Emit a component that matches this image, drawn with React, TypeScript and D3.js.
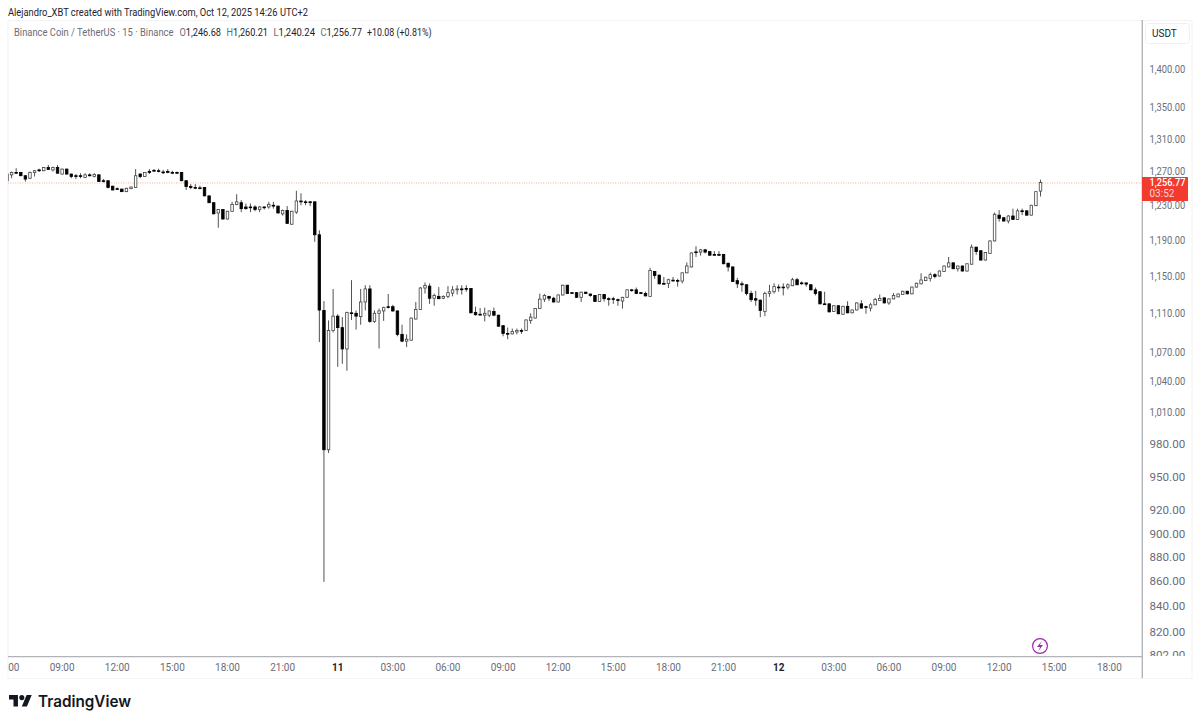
import React from "react";
import * as d3 from "d3";

// OHLC of the 15-minute candles, first bar Oct 10 06:00
const opens = [1259,1266,1269,1269,1265,1262,1269,1272,1271,1275,1272,1275,1267,1273,1267,1265,1265,1263,1266,1264,1266,1259,1259,1252.5,1249.5,1249,1246,1249.5,1251,1267,1264,1270,1271.5,1271,1269.5,1270,1269,1269,1269,1259,1252,1251,1250.5,1251,1241,1233,1221,1225,1214,1223,1231,1233,1228,1228,1228,1225,1228,1228,1230,1229,1220,1224,1208,1222,1235,1234,1234,1234,1196,1113,975,1092,1107,1095,1073,1110.5,1110,1106.5,1122,1136,1101.5,1110,1112.5,1117,1117,1112.5,1088,1081,1082,1104,1114,1137,1139,1126,1128,1126,1128,1131.5,1135,1136,1136.5,1136.5,1111,1109,1108,1108,1112,1108,1097,1089,1088.5,1090.5,1092,1092,1102.5,1105,1115,1125,1128,1126,1122,1129.5,1140,1132,1132,1127,1132.5,1130.5,1129,1122.5,1130,1125.5,1125.5,1124.5,1123,1127,1135,1135,1132,1131,1128,1155,1151,1142,1142,1145.5,1145.2,1144.5,1153.5,1160,1176.7,1176.5,1179,1177,1173.8,1173.8,1173.8,1164,1160,1145,1141.5,1140.5,1131,1125.5,1124,1112,1131,1133,1138,1138,1138,1139.5,1146,1142.5,1142.5,1140.5,1135,1133,1120,1120,1112,1118,1109,1117.4,1110.5,1113.5,1120,1117,1115.5,1119,1123.5,1126.4,1121,1125.3,1127.5,1130,1133.5,1130.7,1138,1141.5,1145,1147.5,1151.5,1150,1155,1160,1164.5,1158,1161,1155.5,1163,1182,1178,1167.6,1175,1189,1218.5,1215.5,1211.7,1217.5,1213.6,1223.5,1223.5,1218.5,1229.5,1246.68];
const highs = [1268,1270,1274,1269.5,1265,1270,1272,1273.5,1275.5,1278,1276,1278,1273.5,1273.5,1267.5,1267,1268,1268,1268,1268,1267,1261,1259.5,1253,1251,1249.5,1250.5,1252,1273,1268,1269.5,1273,1273,1273.5,1272,1273,1271,1270,1269.5,1259.5,1255,1255,1253,1251.5,1241.5,1233.5,1225.5,1225.5,1223.5,1234,1243,1236,1232,1232,1230,1229,1228.5,1234,1234,1229.5,1225,1229,1223.5,1247,1244,1236,1235,1234.5,1201,1123,1102.5,1136,1109,1106,1111.5,1145.5,1113,1136,1140,1140,1113,1115,1117,1130.5,1119,1113,1098,1088,1105.5,1122,1138,1143,1142,1131,1138,1129,1139,1139,1140,1140,1140,1137,1117,1115.5,1116,1113,1116,1108.5,1097.5,1095,1094,1094,1094,1103.5,1110,1115.5,1131,1130.5,1128.5,1127.5,1130,1140.5,1140.5,1132.5,1132.5,1133,1133,1131,1129.5,1130.5,1130.5,1127,1127.5,1125.5,1127.5,1135.5,1136,1137.5,1132.5,1133,1159,1155.5,1151.5,1149,1147,1149,1147,1154,1165,1176,1183,1180,1180,1177.5,1177.5,1177.5,1174,1165,1160.5,1148,1144,1141,1134,1134,1124.5,1133,1140.5,1142,1141,1142,1142,1148,1148,1144,1143,1141,1137.5,1133.5,1133,1120.5,1118.5,1118.5,1118,1122.8,1114,1121.5,1124,1118,1121,1126.4,1130,1127,1125.8,1131.5,1131,1134,1134,1138.5,1142.7,1153,1149.2,1153.7,1153,1156,1161.5,1171,1165,1161.5,1161.5,1164,1185,1182.5,1178.5,1176.5,1189.5,1221.5,1224.3,1216,1218.5,1226,1226,1226,1224,1230.5,1246.5,1260.21];
const lows = [1258,1262,1267,1264.5,1258,1261,1264,1269.5,1270.5,1272,1270,1268,1266.5,1266.5,1262,1261,1262,1262,1264,1263,1257.5,1257,1250,1247.5,1248,1245.5,1245.5,1249,1250.5,1262,1263.5,1267,1269.5,1269,1267,1268,1267,1267,1258.5,1248,1249,1249,1249,1240.5,1232.5,1219.5,1204,1213.5,1213.5,1222.5,1230,1222,1225,1222,1223,1222,1225,1226,1226,1220.5,1218,1208.5,1207.5,1220,1230,1230,1229,1188,1080,860,972,1090,1055,1058,1051,1103,1093,1098,1113,1100,1100,1073.5,1102,1115,1111.5,1086,1080,1075,1081.5,1103.5,1113.5,1131,1120,1118,1125,1125,1126,1128,1130,1130,1133,1110,1107.5,1107.5,1101.5,1106,1107,1096,1086,1083,1088,1088,1088.5,1091.5,1099,1104.5,1114.5,1122,1123,1121.5,1121.5,1129,1130.5,1131,1126.5,1122,1130.5,1127.5,1122,1122,1122.5,1118,1120,1118,1115,1126.5,1133,1130.5,1130.5,1128,1127.5,1147,1141,1141,1137,1144,1138.5,1142,1153,1159.5,1171,1172.5,1175,1172.5,1172.5,1172.5,1163,1155,1143.5,1137,1133,1129,1122,1118,1106,1107,1127.5,1131,1133,1129,1135.5,1139,1140,1140.5,1138.5,1134.5,1129,1119.5,1119,1111,1111.5,1109,1108.5,1110,1110,1113,1115,1109.5,1112,1118.5,1123,1120.5,1119,1125,1127,1129.5,1130.2,1130.2,1137.5,1141,1144.5,1144,1147.5,1149.5,1154.5,1159.5,1157.5,1155,1155,1155,1162.5,1173.5,1167,1167,1174.5,1188.5,1211,1211.2,1209,1213,1213,1218.5,1218,1218,1229,1240.24];
const closes = [1267,1269,1268,1265,1261,1269,1271,1271,1275,1272.5,1275,1268,1273,1267,1264,1264,1264,1266,1265,1266.5,1258,1258,1251,1248,1249,1246,1250,1251.5,1265,1264,1269,1269.6,1271,1270,1269,1269.5,1268.5,1268,1259,1252,1251,1250,1250,1241,1233,1220,1225,1214,1223,1231,1234,1226,1226,1227.5,1225,1228,1228,1231,1229,1221,1224,1209,1223,1235,1234,1233.7,1233.6,1196,1113.4,975,1092,1107,1095,1073,1111,1110,1107,1122,1136,1101.5,1110,1112.5,1116,1116.8,1112.5,1088,1081,1083,1105,1114,1137,1139.6,1126,1129,1125.5,1128,1132,1135,1136,1136,1136.5,1110.5,1108.5,1108.5,1110,1112.5,1108,1096.5,1089,1088.8,1091,1092,1092,1103,1106,1115,1125,1129,1126,1122,1129.5,1140,1131,1131.5,1127,1132.5,1131,1129,1122.5,1130,1125.5,1125,1125,1124,1127,1135,1134.7,1131,1131,1128.5,1156,1150.5,1141.5,1141.8,1146,1145.2,1145,1153.5,1161,1175.5,1176.5,1179,1176.5,1173,1173.5,1173.5,1163.5,1160,1144,1141.5,1140.5,1131,1124.5,1124,1113,1131,1133,1138.5,1137.8,1137.8,1140.5,1146,1140.5,1142.2,1141.2,1135,1131,1120,1119.8,1111.5,1118,1109.5,1117.4,1110.5,1113.5,1121,1115.5,1116.8,1119,1124.6,1125.7,1121,1125.3,1129,1130.5,1133.5,1130.7,1138,1142.2,1145.7,1148.7,1151.5,1149.4,1155.5,1161,1164.5,1158,1161,1155.5,1163.5,1182,1177,1167.6,1176,1189,1219.5,1214.8,1211.7,1217.5,1213.6,1223.5,1223.2,1218.5,1230,1246,1256.77];

const lastPrice = 1256.77;
const priceTicks = [1400, 1350, 1310, 1270, 1230, 1190, 1150, 1110, 1070, 1040, 1010, 980, 950, 920, 900, 880, 860, 840, 820, 802];
const timeLabels = ["06:00","09:00","12:00","15:00","18:00","21:00","11","03:00","06:00","09:00","12:00","15:00","18:00","21:00","12","03:00","06:00","09:00","12:00","15:00","18:00"];
const barsPerLabel = 12;
const legendHead = "Binance Coin / TetherUS · 15 · Binance";
const legendOHLC = [["O", "1,246.68"], ["H", "1,260.21"], ["L", "1,240.24"], ["C", "1,256.77"]];
const legendChange = "+10.08 (+0.81%)";

const FONT = "Roboto, 'Liberation Sans', sans-serif";
const GREY = "#6a6d78";
const fmt = d3.format(",.2f");
const fitted = { lengthAdjust: "spacingAndGlyphs" as const };

export default function App() {
  const x = d3.scaleLinear().domain([0, 225]).range([7, 1040.5]);
  const y = d3.scaleLog().domain([1400, 820]).range([69, 632]);
  const priceY = y(lastPrice) + 0.4;
  const bolt = d3.line()([[1042, 640.8], [1037, 647], [1040.2, 647], [1038.2, 651.2], [1043, 645], [1039.8, 645]]) + "Z";

  return (
    <svg width={1200} height={724} viewBox="0 0 1200 724"
      style={{ position: "absolute", left: 0, top: 0, display: "block", background: "#fff" }} fontFamily={FONT}>
      <defs>
        <clipPath id="plot"><rect x={8} y={20} width={1134} height={636} /></clipPath>
        <clipPath id="axisY"><rect x={1143} y={20} width={50} height={636} /></clipPath>
        <clipPath id="axisX"><rect x={8} y={657} width={1134} height={22} /></clipPath>
      </defs>

      <text x={8} y={15.5} fontSize={10.6} fill="#1e222d" textLength={300} {...fitted}>Alejandro_XBT created with TradingView.com, Oct 12, 2025 14:26 UTC+2</text>

      {/* panel frame */}
      <rect x={8} y={20.5} width={1184} height={658} fill="none" stroke="#f3f3f3" />
      <line x1={1142.3} x2={1142.3} y1={20} y2={678} stroke="#b2b4b9" strokeWidth={1.4} />
      <line x1={8} x2={1142} y1={656.6} y2={656.6} stroke="#b2b4b9" strokeWidth={1.4} />

      {/* legend */}
      <text x={14} y={36} fontSize={10.3} fill={GREY} textLength={159.5} {...fitted}>{legendHead}</text>
      {legendOHLC.map(([k, v], i) => (
        <text key={k} x={179.5 + i * 47} y={36} fontSize={10.3} fill="#1e222d" textLength={41.5} {...fitted}>
          <tspan fill={GREY}>{k}</tspan>{v}
        </text>
      ))}
      <text x={367} y={36} fontSize={10.3} fill="#1e222d" textLength={64.5} {...fitted}>{legendChange}</text>

      {/* candles */}
      <g clipPath="url(#plot)">
        <line x1={8} x2={1142} y1={priceY} y2={priceY} stroke="#f5a488" strokeWidth={0.9} strokeDasharray="1 1.4" />
        {opens.map((o, i) => {
          const c = closes[i];
          const top = y(Math.max(o, c));
          const bot = y(Math.min(o, c));
          const cx = x(i);
          const up = c > o;
          return (
            <g key={i}>
              <line x1={cx} x2={cx} y1={y(highs[i])} y2={y(lows[i])} stroke="#333" strokeWidth={0.85} />
              <rect x={cx - 1.25} y={top} width={2.5} height={Math.max(bot - top, 0.8)}
                fill={up ? "#fff" : "#000"} stroke={up ? "#444" : "#000"} strokeWidth={0.8} />
            </g>
          );
        })}
      </g>

      {/* price axis */}
      <rect x={1145.5} y={23.5} width={44} height={20} rx={3} fill="#fff" stroke="#f0f0f0" />
      <text x={1152} y={37} fontSize={10} fill="#1e222d">USDT</text>
      <g clipPath="url(#axisY)">
        {priceTicks.map((p) => (
          <text key={p} x={1149.5} y={y(p) + 3.6} fontSize={10} fill={GREY} textLength={35.7} {...fitted}>{fmt(p)}</text>
        ))}
      </g>
      <rect x={1142} y={177} width={46} height={24} fill="#f23a2f" />
      <text x={1149.5} y={y(lastPrice) + 3.4} fontSize={10} fontWeight={500} fill="#fff" textLength={36} {...fitted}>{fmt(lastPrice)}</text>
      <text x={1149.5} y={197} fontSize={10} fill="#fcd5d2">03:52</text>

      {/* time axis */}
      <g clipPath="url(#axisX)">
        {timeLabels.map((t, i) => {
          const bold = t.length < 3;
          return (
            <text key={i} x={x(i * barsPerLabel)} y={671} fontSize={10} textAnchor="middle"
              fontWeight={bold ? 700 : 400} fill={bold ? "#1e222d" : GREY}>{t}</text>
          );
        })}
      </g>

      {/* session break marker */}
      <circle cx={1040} cy={646} r={7.4} fill="#fff" stroke="#9c27b0" strokeWidth={1.2} />
      <path d={bolt} fill="#9c27b0" />

      {/* brand */}
      <g transform="translate(9 692.5) scale(0.64)" fill="#131722">
        <path d="M14 22H7V11H0V4h14v18zM28 22h-8l7.5-18h8L28 22z" />
        <circle cx={20} cy={8} r={4} />
      </g>
      <text x={38} y={706.5} fontSize={15.5} fontWeight={600} fill="#131722" fontFamily="Inter, Roboto, sans-serif" textLength={93} {...fitted}>TradingView</text>
    </svg>
  );
}
